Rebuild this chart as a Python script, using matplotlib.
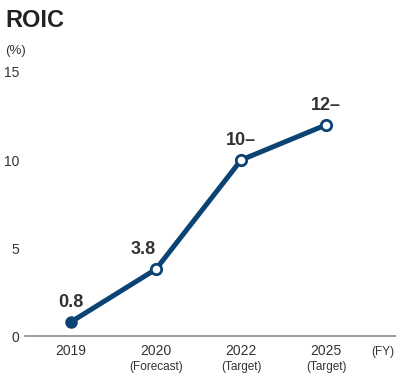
import matplotlib
matplotlib.use("Agg")
from matplotlib import pyplot as plt

years = ['2019', '2020', '2022', '2025']
notes = ['', '(Forecast)', '(Target)', '(Target)']
roic = [0.8, 3.8, 10, 12]
labels = ['0.8', '3.8', '10–', '12–']
label_dx = [0.0, -0.15, 0.0, 0.0]

navy = '#0b4374'
txt = '#333333'
plt.rcParams['font.family'] = ['Liberation Sans Narrow', 'Liberation Sans', 'DejaVu Sans']

fig = plt.figure(figsize=(3.96, 3.73), dpi=100)
ax = fig.add_axes([0.063, 0.099, 0.937, 0.708])

x = list(range(len(years)))
ax.plot(x, roic, color=navy, lw=3.6, zorder=2)
ax.plot(x[0], roic[0], 'o', ms=8, color=navy, zorder=3)
ax.plot(x[1:], roic[1:], 'o', ms=7.5, mfc='white', mec=navy, mew=2, zorder=3)

for i in x:
    ax.annotate(labels[i], (i + label_dx[i], roic[i]), xytext=(0, 8),
                textcoords='offset points', ha='center', va='bottom',
                fontsize=13, fontweight='bold', color=txt)

ax.set_xlim(-0.54, 3.82)
ax.set_ylim(0, 15)
ax.set_yticks([0, 5, 10, 15])
ax.set_xticks(x)
ax.set_xticklabels(years, fontsize=10, color=txt)
ax.tick_params(axis='both', length=0, colors=txt)
ax.tick_params(axis='y', labelsize=10, pad=4)
ax.tick_params(axis='x', pad=6)
for s in ['top', 'right', 'left']:
    ax.spines[s].set_visible(False)
ax.spines['bottom'].set_color('#8a8a8a')
ax.spines['bottom'].set_linewidth(1.2)

for i in x:
    if notes[i]:
        ax.text(i, -1.75, notes[i], ha='center', va='center', fontsize=8.5, color=txt,
                clip_on=False)
ax.text(3.8, -0.9, '(FY)', ha='right', va='center', fontsize=8.5, color=txt, clip_on=False)

fig.text(0.013, 0.945, 'ROIC', fontsize=17, fontweight='bold', color='#222222',
         family=['Liberation Sans', 'DejaVu Sans'], va='center')
fig.text(0.013, 0.862, '(%)', fontsize=9.5, color=txt, va='center')

fig.savefig('out.png', dpi=100)
